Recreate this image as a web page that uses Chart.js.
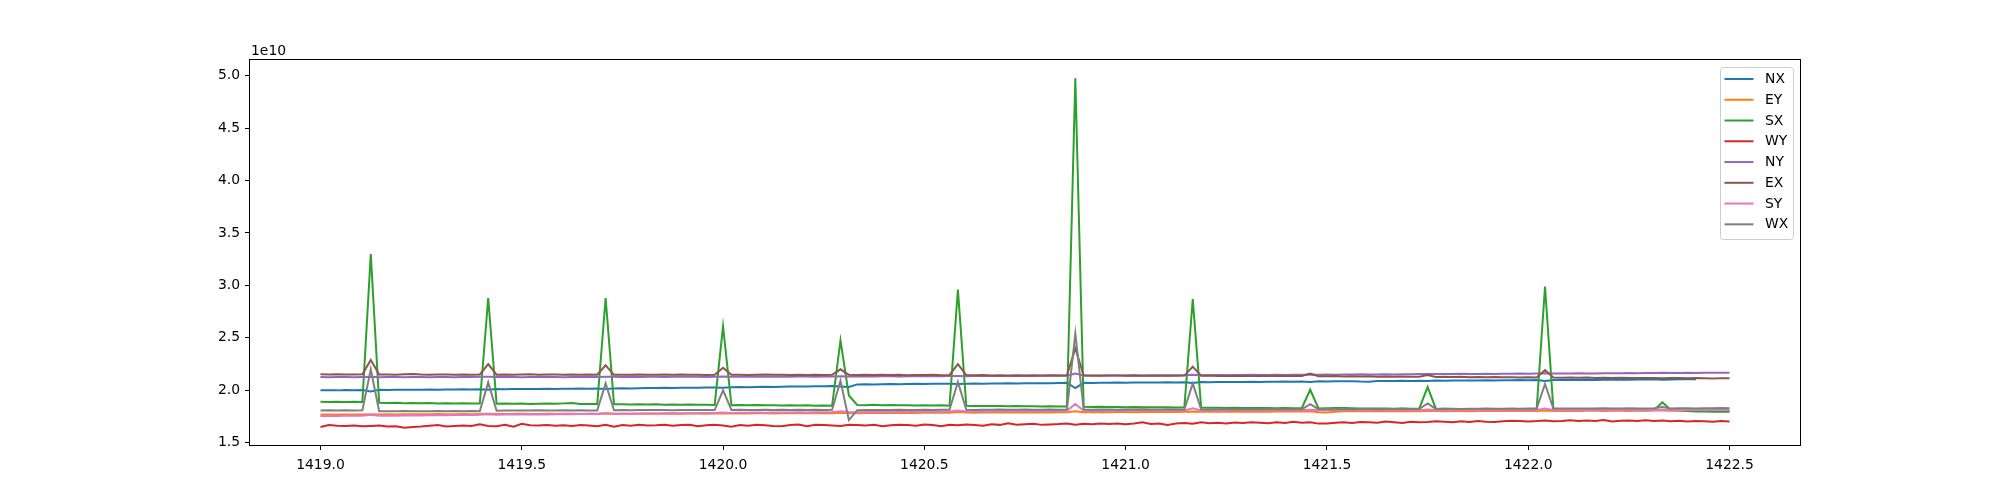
<!DOCTYPE html>
<html>
<head>
<meta charset="utf-8">
<script src="https://cdn.jsdelivr.net/npm/chart.js@4"></script>
<style>
  html, body { margin: 0; padding: 0; background: #fff; }
</style>
</head>
<body>
<canvas id="chart" width="2000" height="500"></canvas>
<script>
// values are in units of 1e10, x in days, one sample every 30 min
const seriesNames = ["NX", "EY", "SX", "WY", "NY", "EX", "SY", "WX"];
const seriesColors = ["#1f77b4", "#ff7f0e", "#2ca02c", "#d62728", "#9467bd", "#8c564b", "#e377c2", "#7f7f7f"];
const xStart = 1419.0;
const xStep = 1 / 48;
const xTicks = [1419.0, 1419.5, 1420.0, 1420.5, 1421.0, 1421.5, 1422.0, 1422.5];
const yTicks = [1.5, 2.0, 2.5, 3.0, 3.5, 4.0, 4.5, 5.0];
const yExponent = "1e10";

const NX = [
  2.000,2.001,1.999,2.002,2.001,2.003,1.988,2.004,2.003,2.005,2.004,2.006,
  2.005,2.007,2.006,2.008,2.007,2.009,2.008,2.010,2.006,2.011,2.010,2.012,
  2.011,2.013,2.012,2.014,2.013,2.015,2.014,2.016,2.015,2.017,2.012,2.018,
  2.019,2.018,2.020,2.022,2.021,2.023,2.022,2.024,2.023,2.025,2.027,2.026,
  2.024,2.028,2.030,2.029,2.031,2.033,2.032,2.034,2.036,2.035,2.037,2.039,
  2.038,2.040,2.036,2.032,2.056,2.057,2.056,2.058,2.059,2.058,2.060,2.061,
  2.060,2.062,2.061,2.063,2.060,2.062,2.064,2.063,2.065,2.064,2.066,2.065,
  2.067,2.066,2.068,2.067,2.069,2.071,2.020,2.071,2.070,2.072,2.071,2.073,
  2.072,2.074,2.073,2.075,2.074,2.076,2.075,2.077,2.070,2.078,2.077,2.079,
  2.078,2.080,2.079,2.081,2.080,2.082,2.081,2.083,2.082,2.084,2.080,2.085,
  2.084,2.086,2.085,2.087,2.083,2.082,2.088,2.089,2.088,2.090,2.089,2.091,
  2.088,2.092,2.091,2.093,2.092,2.094,2.093,2.095,2.094,2.096,2.095,2.097,
  2.096,2.098,2.088,2.098,2.097,2.099,2.098,2.100,2.099,2.101,2.100,2.102,
  2.101,2.103,2.102,2.104,2.100,2.103,2.104,2.105,2.104,null,null,null,
  null
];
const EY = [
  1.768,1.769,1.768,1.770,1.769,1.770,1.772,1.770,1.771,1.770,1.772,1.771,
  1.772,1.771,1.773,1.772,1.771,1.773,1.772,1.774,1.776,1.773,1.774,1.773,
  1.775,1.774,1.773,1.775,1.774,1.776,1.775,1.774,1.776,1.775,1.779,1.776,
  1.775,1.777,1.776,1.778,1.777,1.776,1.778,1.777,1.779,1.778,1.777,1.779,
  1.782,1.778,1.780,1.779,1.781,1.780,1.779,1.781,1.780,1.782,1.781,1.780,
  1.782,1.781,1.786,1.783,1.782,1.784,1.783,1.785,1.784,1.783,1.785,1.784,
  1.786,1.785,1.787,1.786,1.792,1.787,1.786,1.788,1.787,1.789,1.788,1.787,
  1.789,1.788,1.790,1.789,1.791,1.790,1.800,1.791,1.790,1.792,1.791,1.793,
  1.792,1.791,1.793,1.792,1.794,1.793,1.792,1.794,1.798,1.795,1.794,1.796,
  1.795,1.797,1.796,1.795,1.797,1.796,1.798,1.797,1.799,1.798,1.800,1.790,
  1.788,1.795,1.799,1.800,1.799,1.801,1.800,1.799,1.801,1.800,1.802,1.801,
  1.804,1.802,1.801,1.803,1.802,1.801,1.803,1.802,1.804,1.803,1.802,1.804,
  1.803,1.802,1.806,1.803,1.802,1.804,1.803,1.805,1.804,1.803,1.805,1.804,
  1.803,1.805,1.804,1.806,1.807,1.805,1.804,1.806,1.805,1.804,1.806,1.805,
  1.805
];
const SX = [
  1.890,1.889,1.891,1.888,1.890,1.889,3.300,1.880,1.878,1.881,1.877,1.879,
  1.876,1.878,1.875,1.877,1.874,1.876,1.875,1.873,2.880,1.872,1.874,1.871,
  1.873,1.870,1.872,1.874,1.871,1.875,1.879,1.870,1.868,1.869,2.880,1.866,
  1.867,1.865,1.866,1.864,1.866,1.863,1.865,1.862,1.864,1.861,1.863,1.860,
  2.610,1.858,1.860,1.857,1.859,1.856,1.858,1.855,1.857,1.854,1.856,1.853,
  1.855,1.852,2.475,1.950,1.860,1.858,1.862,1.857,1.859,1.856,1.858,1.855,
  1.857,1.854,1.856,1.853,2.960,1.852,1.850,1.851,1.849,1.850,1.848,1.849,
  1.847,1.848,1.846,1.847,1.845,1.846,4.975,1.843,1.841,1.842,1.840,1.841,
  1.839,1.840,1.838,1.839,1.837,1.838,1.836,1.837,2.870,1.835,1.833,1.834,
  1.832,1.833,1.831,1.832,1.830,1.831,1.829,1.830,1.828,1.829,2.005,1.826,
  1.828,1.830,1.831,1.828,1.826,1.827,1.825,1.826,1.824,1.825,1.823,1.824,
  2.030,1.822,1.823,1.821,1.822,1.820,1.821,1.819,1.820,1.818,1.819,1.817,
  1.818,1.816,2.990,1.817,1.815,1.816,1.814,1.815,1.813,1.814,1.812,1.813,
  1.811,1.812,1.810,1.811,1.885,1.812,1.810,1.802,1.798,1.797,1.796,1.797,
  1.796
];
const WY = [
  1.650,1.668,1.662,1.660,1.664,1.658,1.660,1.663,1.654,1.657,1.642,1.650,
  1.655,1.662,1.668,1.654,1.660,1.664,1.659,1.676,1.660,1.658,1.672,1.652,
  1.680,1.666,1.664,1.668,1.662,1.666,1.660,1.668,1.664,1.657,1.670,1.652,
  1.668,1.662,1.672,1.664,1.666,1.670,1.662,1.668,1.672,1.658,1.666,1.670,
  1.664,1.652,1.668,1.662,1.672,1.666,1.660,1.658,1.668,1.674,1.656,1.670,
  1.668,1.664,1.660,1.672,1.668,1.664,1.670,1.658,1.666,1.672,1.668,1.662,
  1.674,1.668,1.656,1.670,1.666,1.674,1.668,1.662,1.676,1.670,1.686,1.672,
  1.676,1.680,1.670,1.674,1.678,1.684,1.672,1.680,1.676,1.684,1.678,1.682,
  1.676,1.682,1.694,1.678,1.684,1.668,1.682,1.688,1.680,1.694,1.686,1.690,
  1.684,1.692,1.688,1.694,1.690,1.686,1.696,1.688,1.700,1.690,1.696,1.682,
  1.684,1.690,1.694,1.688,1.698,1.694,1.690,1.702,1.696,1.688,1.700,1.694,
  1.698,1.704,1.700,1.696,1.704,1.698,1.706,1.700,1.698,1.704,1.710,1.706,
  1.702,1.706,1.712,1.704,1.708,1.714,1.706,1.712,1.708,1.716,1.702,1.710,
  1.712,1.708,1.714,1.706,1.712,1.704,1.710,1.702,1.708,1.704,1.700,1.706,
  1.702
];
const NY = [
  2.126,2.125,2.127,2.126,2.124,2.126,2.128,2.125,2.127,2.126,2.125,2.127,
  2.126,2.124,2.126,2.127,2.125,2.127,2.126,2.128,2.130,2.126,2.128,2.127,
  2.125,2.127,2.126,2.128,2.127,2.125,2.127,2.126,2.128,2.127,2.129,2.128,
  2.126,2.128,2.127,2.129,2.128,2.127,2.129,2.128,2.130,2.128,2.127,2.129,
  2.131,2.128,2.130,2.129,2.131,2.130,2.129,2.131,2.130,2.132,2.131,2.130,
  2.132,2.131,2.133,2.132,2.131,2.133,2.132,2.134,2.133,2.132,2.134,2.133,
  2.135,2.134,2.133,2.135,2.137,2.134,2.136,2.135,2.137,2.136,2.135,2.137,
  2.138,2.137,2.139,2.138,2.140,2.139,2.160,2.140,2.139,2.141,2.140,2.142,
  2.141,2.143,2.142,2.141,2.143,2.142,2.144,2.143,2.147,2.144,2.143,2.145,
  2.144,2.146,2.145,2.147,2.146,2.145,2.147,2.146,2.148,2.147,2.149,2.148,
  2.150,2.149,2.151,2.150,2.152,2.151,2.150,2.152,2.151,2.153,2.152,2.154,
  2.155,2.154,2.156,2.155,2.157,2.156,2.155,2.157,2.156,2.158,2.157,2.159,
  2.158,2.160,2.163,2.159,2.161,2.160,2.162,2.161,2.160,2.162,2.163,2.162,
  2.164,2.163,2.165,2.164,2.166,2.165,2.164,2.166,2.165,2.167,2.166,2.168,
  2.167
];
const EX = [
  2.152,2.150,2.153,2.151,2.150,2.152,2.288,2.150,2.151,2.149,2.152,2.156,
  2.150,2.149,2.151,2.150,2.148,2.150,2.149,2.151,2.250,2.149,2.150,2.148,
  2.150,2.152,2.149,2.151,2.150,2.148,2.150,2.149,2.151,2.148,2.238,2.147,
  2.149,2.148,2.150,2.147,2.149,2.151,2.148,2.150,2.147,2.149,2.146,2.148,
  2.215,2.147,2.149,2.146,2.148,2.150,2.147,2.149,2.146,2.148,2.145,2.147,
  2.146,2.148,2.200,2.147,2.145,2.147,2.146,2.148,2.145,2.147,2.144,2.146,
  2.145,2.147,2.144,2.146,2.250,2.145,2.143,2.145,2.142,2.144,2.141,2.143,
  2.142,2.144,2.141,2.143,2.140,2.142,2.400,2.140,2.142,2.139,2.141,2.140,
  2.139,2.141,2.138,2.140,2.139,2.141,2.138,2.140,2.225,2.138,2.140,2.137,
  2.139,2.136,2.138,2.137,2.139,2.136,2.138,2.135,2.137,2.136,2.160,2.134,
  2.133,2.135,2.132,2.134,2.131,2.133,2.130,2.132,2.129,2.131,2.130,2.128,
  2.145,2.127,2.129,2.126,2.128,2.125,2.127,2.124,2.126,2.123,2.125,2.122,
  2.124,2.121,2.193,2.122,2.120,2.122,2.119,2.121,2.118,2.120,2.117,2.119,
  2.118,2.116,2.118,2.117,2.115,2.117,2.116,2.114,2.116,2.115,2.113,2.115,
  2.114
];
const SY = [
  1.755,1.756,1.755,1.757,1.756,1.758,1.766,1.758,1.759,1.758,1.760,1.761,
  1.760,1.762,1.763,1.762,1.764,1.765,1.764,1.766,1.772,1.767,1.768,1.769,
  1.768,1.770,1.771,1.770,1.772,1.773,1.772,1.774,1.775,1.774,1.782,1.776,
  1.777,1.776,1.778,1.779,1.778,1.780,1.781,1.780,1.782,1.781,1.783,1.784,
  1.788,1.784,1.786,1.785,1.787,1.786,1.788,1.789,1.788,1.790,1.789,1.791,
  1.790,1.792,1.800,1.792,1.791,1.793,1.792,1.794,1.793,1.795,1.794,1.796,
  1.795,1.797,1.796,1.798,1.808,1.798,1.797,1.799,1.798,1.800,1.799,1.801,
  1.800,1.802,1.801,1.803,1.802,1.804,1.869,1.804,1.803,1.805,1.804,1.806,
  1.805,1.807,1.806,1.808,1.807,1.806,1.808,1.807,1.828,1.808,1.807,1.809,
  1.808,1.810,1.809,1.808,1.810,1.809,1.811,1.810,1.809,1.811,1.815,1.810,
  1.809,1.811,1.810,1.812,1.811,1.810,1.812,1.811,1.810,1.812,1.811,1.810,
  1.816,1.811,1.810,1.812,1.811,1.813,1.812,1.811,1.813,1.812,1.811,1.813,
  1.812,1.811,1.825,1.811,1.813,1.812,1.811,1.813,1.812,1.814,1.813,1.812,
  1.811,1.813,1.812,1.811,1.814,1.812,1.811,1.813,1.812,1.811,1.813,1.812,
  1.812
];
const WX = [
  1.808,1.809,1.807,1.810,1.808,1.809,2.200,1.800,1.801,1.799,1.802,1.800,
  1.801,1.799,1.802,1.800,1.803,1.801,1.802,1.800,2.075,1.805,1.807,1.806,
  1.808,1.806,1.809,1.807,1.808,1.810,1.808,1.809,1.807,1.808,2.065,1.810,
  1.812,1.810,1.811,1.813,1.811,1.812,1.810,1.812,1.811,1.813,1.812,1.811,
  2.000,1.812,1.814,1.812,1.813,1.815,1.813,1.814,1.812,1.814,1.813,1.815,
  1.813,1.814,2.090,1.716,1.810,1.812,1.811,1.813,1.812,1.814,1.813,1.812,
  1.814,1.813,1.815,1.814,2.080,1.815,1.813,1.815,1.814,1.816,1.815,1.814,
  1.816,1.815,1.814,1.816,1.815,1.817,2.540,1.816,1.815,1.817,1.816,1.815,
  1.817,1.816,1.818,1.817,1.816,1.818,1.817,1.816,2.065,1.818,1.817,1.819,
  1.818,1.817,1.819,1.818,1.820,1.819,1.818,1.820,1.819,1.818,1.868,1.820,
  1.821,1.819,1.821,1.820,1.822,1.821,1.820,1.822,1.821,1.823,1.822,1.821,
  1.875,1.822,1.824,1.823,1.822,1.824,1.823,1.825,1.824,1.823,1.825,1.824,
  1.826,1.825,2.060,1.825,1.827,1.826,1.825,1.827,1.826,1.828,1.827,1.826,
  1.828,1.827,1.826,1.828,1.840,1.827,1.829,1.828,1.827,1.829,1.828,1.830,
  1.828
];

const seriesValues = [NX, EY, SX, WY, NY, EX, SY, WX];

const FONT = "DejaVu Sans";
Chart.defaults.font.family = FONT;
Chart.defaults.font.size = 13.9;
Chart.defaults.color = "#000";

const datasets = seriesValues.map((vals, k) => ({
  label: seriesNames[k],
  data: vals.map((v, i) => ({ x: xStart + i * xStep, y: v })),
  borderColor: seriesColors[k],
  backgroundColor: seriesColors[k],
  borderWidth: 2,
  pointRadius: 0,
  tension: 0,
  fill: false,
  spanGaps: false,
  // matplotlib paints the last series on top
  order: seriesValues.length - k,
}));

// frame, offset label and legend box drawn like matplotlib
const mplDecor = {
  id: "mplDecor",
  afterDatasetsDraw(chart) {
    const { ctx, chartArea: a } = chart;
    ctx.save();
    ctx.strokeStyle = "#000";
    ctx.lineWidth = 1;
    ctx.strokeRect(Math.round(a.left) - 0.5, Math.round(a.top) - 0.5,
      Math.round(a.right - a.left) + 1, Math.round(a.bottom - a.top) + 1);
    ctx.restore();
  },
  afterDraw(chart) {
    const { ctx, chartArea: a } = chart;
    ctx.save();
    ctx.font = "13.9px " + FONT;
    ctx.fillStyle = "#000";
    ctx.textAlign = "left";
    ctx.textBaseline = "middle";
    ctx.fillText(yExponent, a.left + 1, a.top - 8.5);

    const bw = 73, bh = 172;
    const bx = a.right - 7 - bw, by = a.top + 7;
    ctx.fillStyle = "rgba(255,255,255,0.8)";
    ctx.strokeStyle = "#cccccc";
    ctx.lineWidth = 1;
    ctx.beginPath();
    ctx.roundRect(bx + 0.5, by + 0.5, bw, bh, 3);
    ctx.fill();
    ctx.stroke();

    seriesNames.forEach((name, k) => {
      const y = by + 12 + k * 20.76;
      ctx.strokeStyle = seriesColors[k];
      ctx.lineWidth = 2;
      ctx.beginPath();
      ctx.moveTo(bx + 4.5, y);
      ctx.lineTo(bx + 33.5, y);
      ctx.stroke();
      ctx.fillStyle = "#000";
      ctx.fillText(name, bx + 45, y + 0.5);
    });
    ctx.restore();
  },
};

new Chart(document.getElementById("chart"), {
  type: "line",
  data: { datasets },
  plugins: [mplDecor],
  options: {
    responsive: false,
    devicePixelRatio: 1,
    animation: false,
    events: [],
    layout: { padding: { left: 0, top: 60, right: 200, bottom: 0 } },
    plugins: {
      legend: { display: false },
      tooltip: { enabled: false },
    },
    scales: {
      x: {
        type: "linear",
        min: 1418.825,
        max: 1422.675,
        afterBuildTicks: (scale) => { scale.ticks = xTicks.map((v) => ({ value: v })); },
        afterFit: (scale) => { scale.height = 55; },
        border: { display: false },
        grid: { drawOnChartArea: false, drawTicks: true, tickLength: 5, tickColor: "#000", tickWidth: 1 },
        ticks: { padding: 7, maxRotation: 0, autoSkip: false, callback: (v) => v.toFixed(1) },
      },
      y: {
        type: "linear",
        min: 1.478,
        max: 5.15,
        afterBuildTicks: (scale) => { scale.ticks = yTicks.map((v) => ({ value: v })); },
        afterFit: (scale) => { scale.width = 250; },
        border: { display: false },
        grid: { drawOnChartArea: false, drawTicks: true, tickLength: 5, tickColor: "#000", tickWidth: 1 },
        ticks: { padding: 5, autoSkip: false, callback: (v) => v.toFixed(1) },
      },
    },
  },
});
</script>
</body>
</html>
